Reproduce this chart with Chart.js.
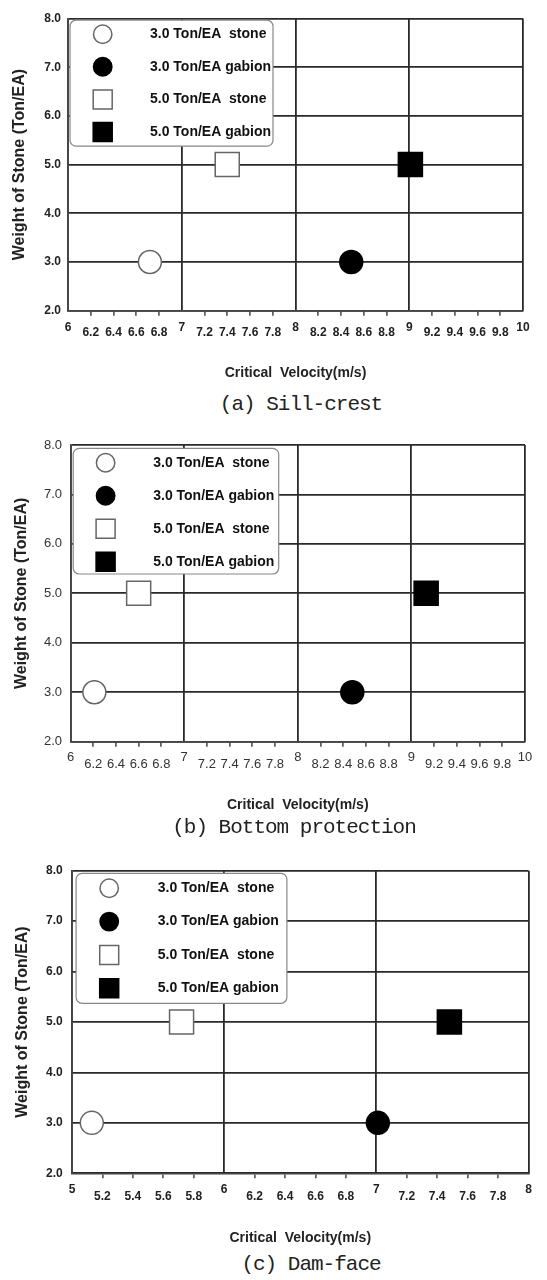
<!DOCTYPE html>
<html><head><meta charset="utf-8">
<script src="https://cdn.jsdelivr.net/npm/chart.js@4.4.1/dist/chart.umd.min.js"></script>
<style>
html,body{margin:0;padding:0;background:#fff;}
#wrap{position:relative;width:547px;height:1280px;overflow:hidden;background:#fff;}
canvas{position:absolute;left:0;}
.cap{position:absolute;width:400px;text-align:center;font-family:"Liberation Mono",monospace;font-size:21px;letter-spacing:-1px;line-height:24px;color:#222;white-space:pre;}
</style></head><body>
<div id="wrap">
<canvas id="cA" width="547" height="390" style="top:0px"></canvas>
<canvas id="cB" width="547" height="400" style="top:420px"></canvas>
<canvas id="cC" width="547" height="400" style="top:850px"></canvas>
<div class="cap" id="capA" style="left:101px;top:393px"></div>
<div class="cap" id="capB" style="left:94px;top:816px"></div>
<div class="cap" id="capC" style="left:111px;top:1253px"></div>
</div>
<script>
// ---- data ----
const seriesLabels = ['3.0 Ton/EA  stone', '3.0 Ton/EA gabion', '5.0 Ton/EA  stone', '5.0 Ton/EA gabion'];
const stoneWeights = [3.0, 3.0, 5.0, 5.0];
const sillCrestVelocity = [6.72, 8.49, 7.40, 9.01];
const bottomProtectionVelocity = [6.21, 8.48, 6.60, 9.13];
const damFaceVelocity = [5.13, 7.01, 5.72, 7.48];
const xRangeA = [6, 10];
const xRangeB = [6, 10];
const xRangeC = [5, 8];
const yRange = [2, 8];
const xStep = 0.2;
const yStep = 1;
const captions = ['(a) Sill-crest', '(b) Bottom protection', '(c) Dam-face'];
const xTitle = 'Critical  Velocity(m/s)';
const yTitle = 'Weight of Stone (Ton/EA)';

// ---- styles ----
const FAM = '"Liberation Sans", Arial, sans-serif';
const GRID = '#2a2a2a';
const seriesStyles = [
  {pointStyle: 'circle', radius: 11.5, bg: '#ffffff', border: '#666666'},
  {pointStyle: 'circle', radius: 11.5, bg: '#000000', border: '#000000'},
  {pointStyle: 'rect', radius: 17, bg: '#ffffff', border: '#666666'},
  {pointStyle: 'rect', radius: 17, bg: '#000000', border: '#000000'}
];

const boxLegend = {
  id: 'boxLegend',
  afterDraw(chart, args, o) {
    const {ctx, chartArea: a} = chart;
    const x0 = a.left + o.dx, y0 = a.top + o.dy;
    ctx.save();
    ctx.beginPath();
    if (ctx.roundRect) ctx.roundRect(x0, y0, o.w, o.h, 6); else ctx.rect(x0, y0, o.w, o.h);
    ctx.fillStyle = '#fff'; ctx.fill();
    ctx.lineWidth = 1.2; ctx.strokeStyle = '#888'; ctx.stroke();
    chart.data.datasets.forEach((ds, i) => {
      const cy = y0 + o.row0 + i * o.rowGap, cx = x0 + o.markerX;
      ctx.beginPath();
      if (ds.pointStyle === 'rect') { const s = 9.5; ctx.rect(cx - s, cy - s, 2 * s, 2 * s); }
      else ctx.arc(cx, cy, 9.2, 0, Math.PI * 2);
      ctx.fillStyle = ds.backgroundColor; ctx.fill();
      ctx.lineWidth = ds.borderWidth; ctx.strokeStyle = ds.borderColor; ctx.stroke();
      ctx.fillStyle = '#111';
      ctx.font = 'bold 14px ' + FAM;
      ctx.textBaseline = 'middle'; ctx.textAlign = 'left';
      ctx.fillText(ds.label, x0 + o.textX, cy);
    });
    ctx.restore();
  }
};

function makeChart(id, vel, xr, L) {
  const isMajor = v => Math.abs(v - Math.round(v)) < 1e-6;
  return new Chart(document.getElementById(id), {
    type: 'scatter',
    data: {
      datasets: seriesLabels.map((lab, i) => ({
        label: lab,
        data: [{x: vel[i], y: stoneWeights[i]}],
        pointStyle: seriesStyles[i].pointStyle,
        pointRadius: seriesStyles[i].radius,
        pointHoverRadius: seriesStyles[i].radius,
        backgroundColor: seriesStyles[i].bg,
        borderColor: seriesStyles[i].border,
        borderWidth: 1.5
      }))
    },
    options: {
      responsive: false, animation: false, events: [],
      layout: {padding: {top: L.top, right: L.right, left: 0, bottom: 0}},
      plugins: {legend: {display: false}, tooltip: {enabled: false}, boxLegend: L.legend},
      scales: {
        x: {
          type: 'linear', min: xr[0], max: xr[1],
          afterFit: s => { s.height = L.xh; },
          ticks: {
            stepSize: xStep, autoSkip: false, maxRotation: 0, minRotation: 0, padding: 0, color: L.tickColor,
            callback: v => isMajor(v) ? String(Math.round(v)) : Number(v).toFixed(1),
            font: c => {
              const v = c.tick ? c.tick.value : 0;
              return {family: FAM, size: L.xFont, weight: L.weight, lineHeight: (isMajor(v) ? L.majLH : L.minLH) + 'px'};
            }
          },
          grid: {
            drawTicks: true, tickLength: 5, lineWidth: 1.8, tickWidth: 1.5,
            color: c => (c.tick && isMajor(c.tick.value)) ? GRID : 'rgba(0,0,0,0)',
            tickColor: c => (c.tick && isMajor(c.tick.value)) ? 'rgba(0,0,0,0)' : '#444'
          },
          border: {display: true, color: '#444', width: 1.6},
          title: {display: true, text: xTitle, color: '#222',
            font: {family: FAM, size: 14, weight: 'bold', lineHeight: 1.2},
            padding: {top: 0, bottom: L.xtPad}}
        },
        y: {
          type: 'linear', min: yRange[0], max: yRange[1],
          afterFit: s => { s.width = L.yw; },
          ticks: {stepSize: yStep, padding: L.ytPad, color: L.tickColor,
            callback: v => Number(v).toFixed(1),
            font: {family: FAM, size: L.yFont, weight: L.weight}},
          grid: {drawTicks: false, color: GRID, lineWidth: 1.8},
          border: {display: true, color: '#444', width: 1.6},
          title: {display: true, text: yTitle, color: '#222',
            font: {family: FAM, size: 16, weight: 'bold', lineHeight: 1.2},
            padding: {top: L.yTitlePad, bottom: 0}}
        }
      }
    },
    plugins: [boxLegend]
  });
}

makeChart('cA', sillCrestVelocity, xRangeA, {
  top: 15, right: 24, yw: 68, xh: 79.3, xFont: 12, yFont: 12, weight: 'bold', tickColor: '#222',
  majLH: 23, minLH: 34, xtPad: 8.6, ytPad: 7, yTitlePad: 10.4,
  legend: {dx: 2, dy: 1.7, w: 203, h: 126, row0: 14, rowGap: 32.6, markerX: 32.7, textX: 80}
});
makeChart('cB', bottomProtectionVelocity, xRangeB, {
  top: 25, right: 22, yw: 70.5, xh: 78.3, xFont: 13, yFont: 13, weight: 'normal', tickColor: '#333',
  majLH: 21, minLH: 36, xtPad: 6.6, ytPad: 8.5, yTitlePad: 12.2,
  legend: {dx: 2.7, dy: 3.3, w: 205.5, h: 125.7, row0: 14.4, rowGap: 33, markerX: 32.4, textX: 80}
});
makeChart('cC', damFaceVelocity, xRangeC, {
  top: 20.7, right: 3.5, yw: 72, xh: 76.7, xFont: 12, yFont: 12, weight: 'bold', tickColor: '#222',
  majLH: 23, minLH: 36, xtPad: 3.6, ytPad: 9.3, yTitlePad: 13.4,
  legend: {dx: 4.1, dy: 2.6, w: 210.8, h: 130, row0: 15, rowGap: 33.3, markerX: 33.1, textX: 81.7}
});

document.getElementById('capA').textContent = captions[0];
document.getElementById('capB').textContent = captions[1];
document.getElementById('capC').textContent = captions[2];
</script>
</body></html>
